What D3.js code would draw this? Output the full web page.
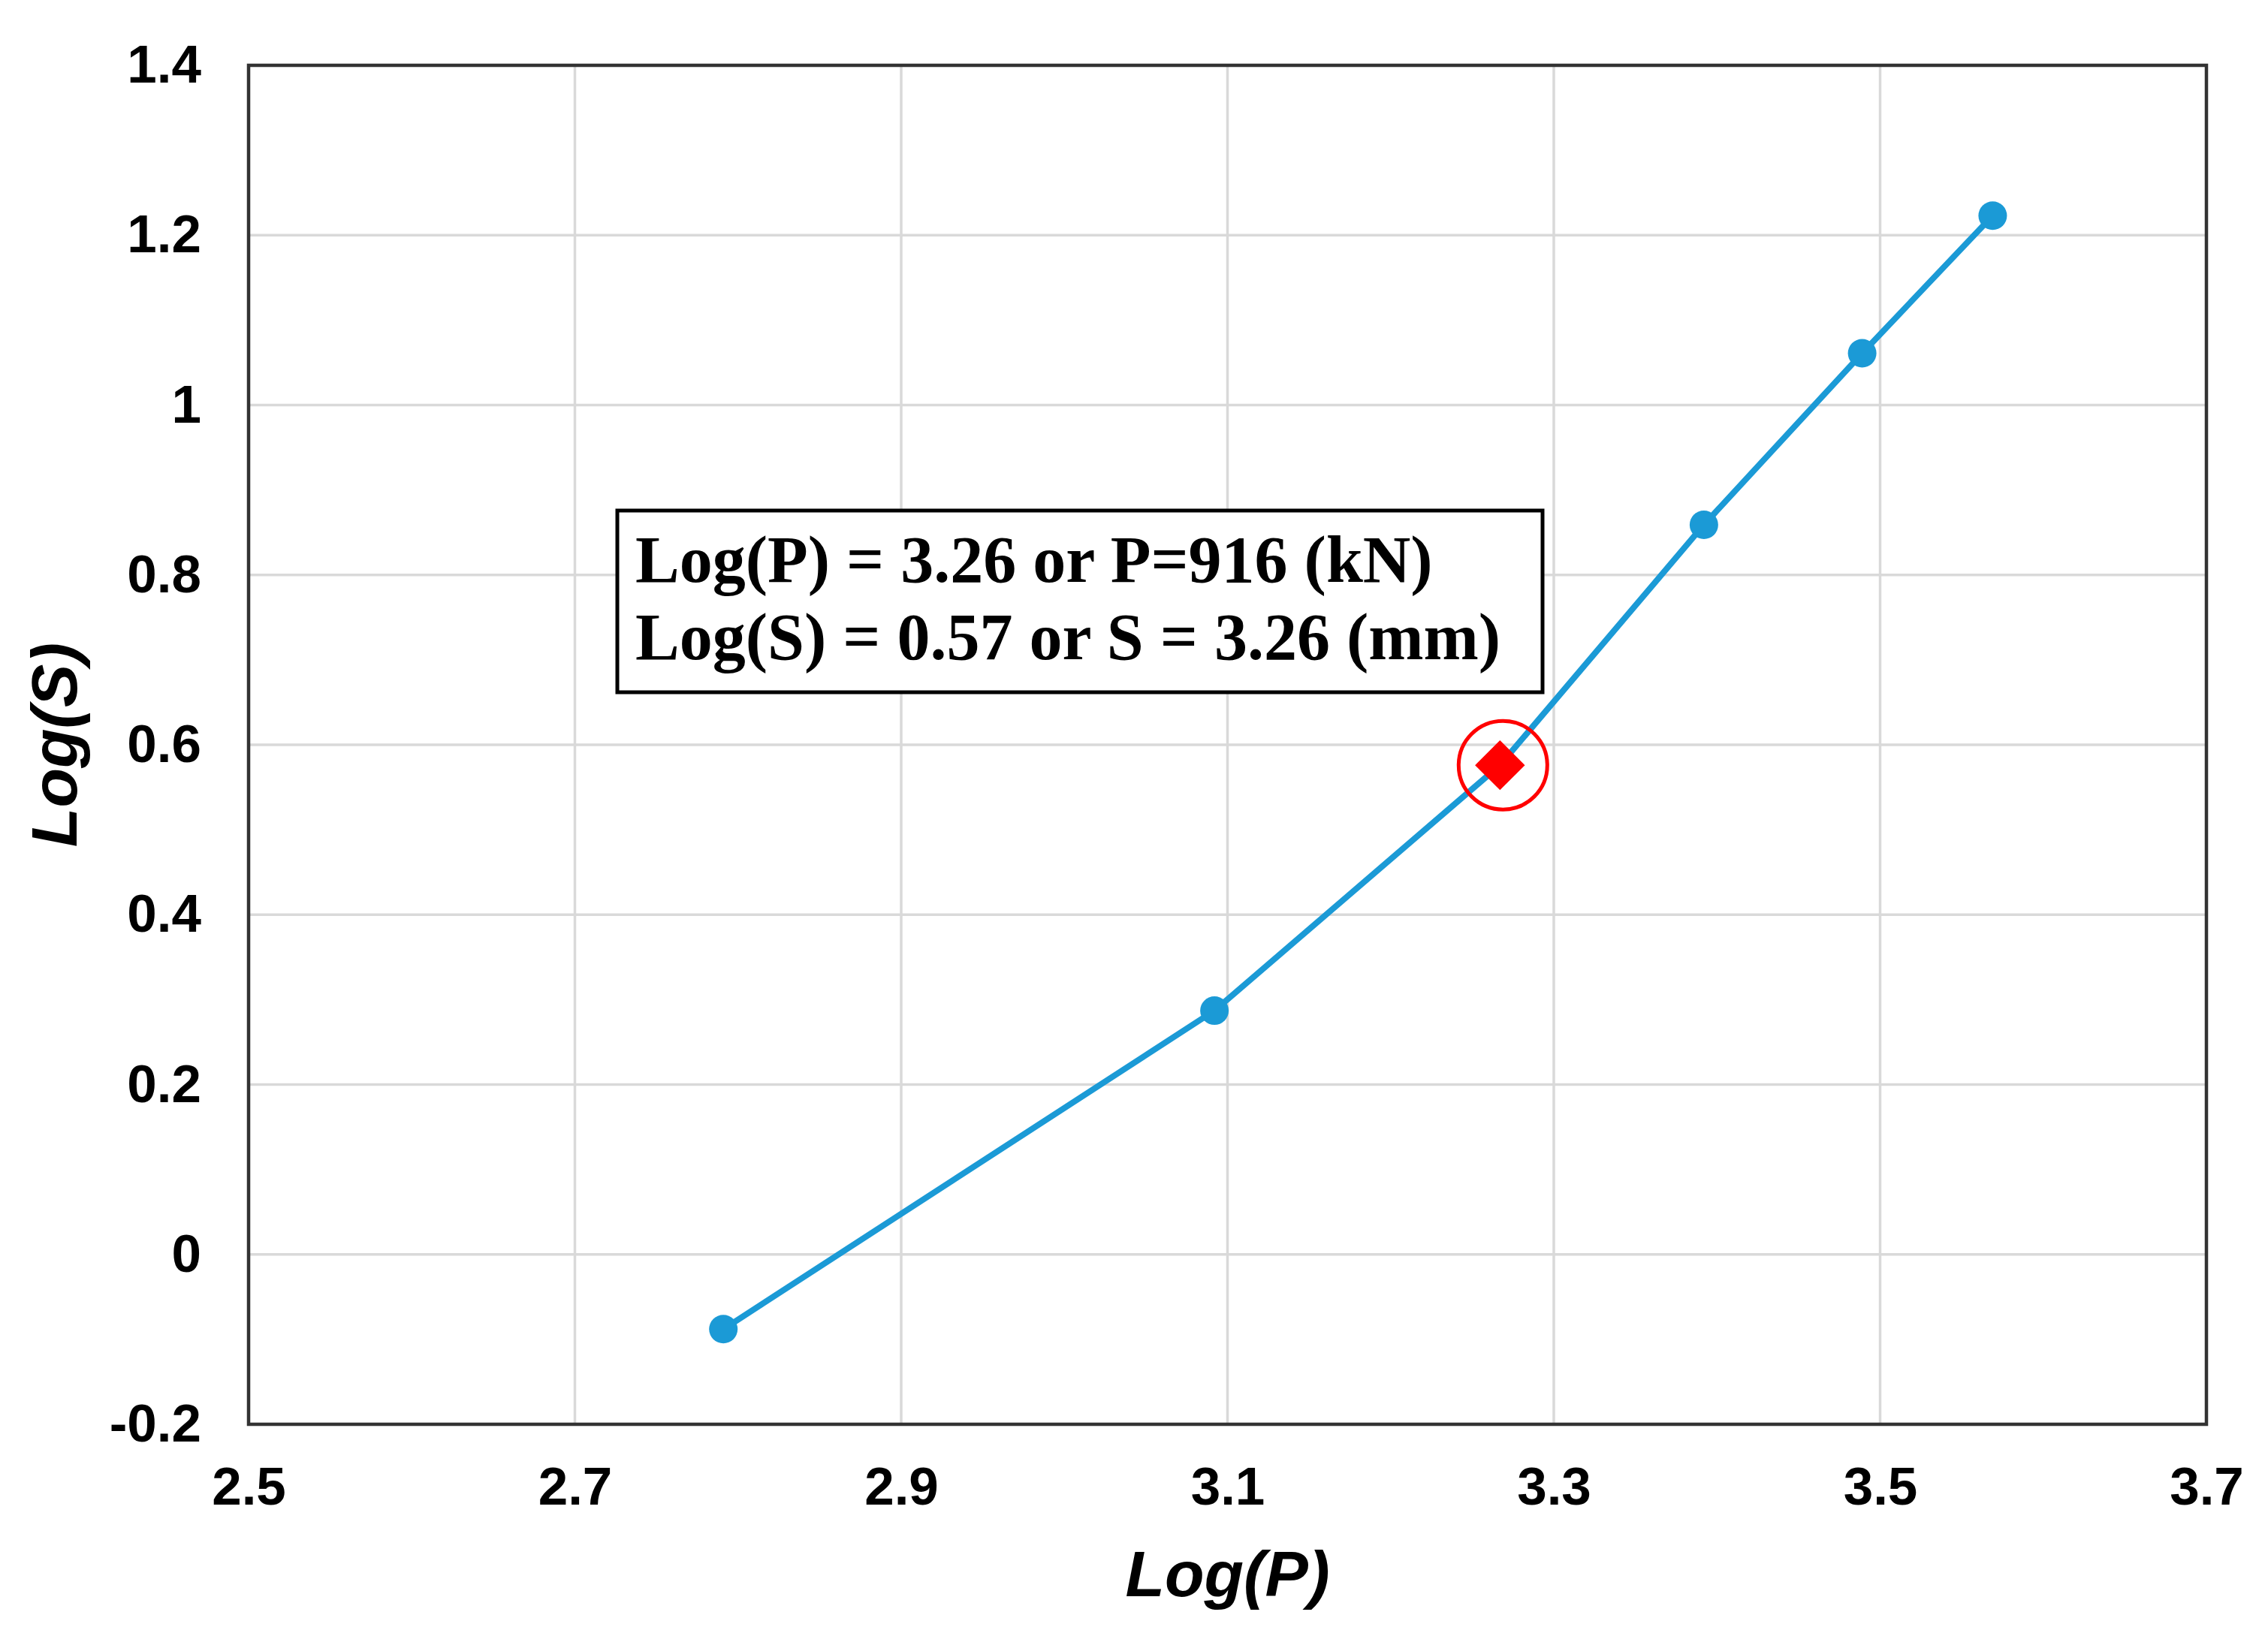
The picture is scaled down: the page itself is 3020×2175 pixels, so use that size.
<!DOCTYPE html>
<html>
<head>
<meta charset="utf-8">
<script src="https://cdn.jsdelivr.net/npm/d3@7"></script>
<style>
  body { margin: 0; background: #fff; }
</style>
</head>
<body>
<div id="chart"></div>
<script>
// series: Log(P) vs Log(S), third point is the one picked out in red
const logP = [2.791, 3.092, 3.267, 3.392, 3.489, 3.569];
const logS = [-0.088, 0.287, 0.576, 0.859, 1.061, 1.223];

const markP = [3.267];
const markS = [0.576];

const xTicks = [2.5, 2.7, 2.9, 3.1, 3.3, 3.5, 3.7];
const xTickLabels = ['2.5', '2.7', '2.9', '3.1', '3.3', '3.5', '3.7'];
const yTicks = [-0.2, 0, 0.2, 0.4, 0.6, 0.8, 1, 1.2, 1.4];
const yTickLabels = ['-0.2', '0', '0.2', '0.4', '0.6', '0.8', '1', '1.2', '1.4'];

const noteLines = [
  'Log(P) = 3.26 or P=916 (kN)',
  'Log(S) = 0.57 or S = 3.26 (mm)',
];

const W = 3020;
const H = 2175;
const margin = {
  top: 87, right: 82, bottom: 278, left: 331,
};
const width = W - margin.left - margin.right;
const height = H - margin.top - margin.bottom;

const blue = '#1b9ad6';
const sans = '"Liberation Sans", Arial, sans-serif';
const serif = '"Liberation Serif", "Times New Roman", serif';

const x = d3.scaleLinear().domain([2.5, 3.7]).range([0, width]);
const y = d3.scaleLinear().domain([-0.2, 1.4]).range([height, 0]);

const svg = d3.select('#chart').append('svg')
  .attr('width', W)
  .attr('height', H)
  .style('display', 'block');

svg.append('rect').attr('width', W).attr('height', H).attr('fill', '#fff');

const g = svg.append('g')
  .attr('transform', `translate(${margin.left},${margin.top})`);

// grid
g.append('g')
  .selectAll('line')
  .data(xTicks)
  .enter().append('line')
  .attr('x1', (d) => x(d))
  .attr('x2', (d) => x(d))
  .attr('y1', 0)
  .attr('y2', height)
  .attr('stroke', '#d9d9d9')
  .attr('stroke-width', 3.5);

g.append('g')
  .selectAll('line')
  .data(yTicks)
  .enter().append('line')
  .attr('x1', 0)
  .attr('x2', width)
  .attr('y1', (d) => y(d))
  .attr('y2', (d) => y(d))
  .attr('stroke', '#d9d9d9')
  .attr('stroke-width', 3.5);

// axes (labels only, frame drawn below)
const xAxis = g.append('g')
  .attr('transform', `translate(0,${height})`)
  .call(d3.axisBottom(x)
    .tickValues(xTicks)
    .tickFormat((d, i) => xTickLabels[i])
    .tickSize(0)
    .tickPadding(57));

const yAxis = g.append('g')
  .call(d3.axisLeft(y)
    .tickValues(yTicks)
    .tickFormat((d, i) => yTickLabels[i])
    .tickSize(0)
    .tickPadding(63));

[xAxis, yAxis].forEach((a) => {
  a.select('.domain').remove();
  a.selectAll('text')
    .attr('fill', '#000')
    .style('font-family', sans)
    .style('font-weight', 'bold')
    .style('font-size', '71px');
});

// plot frame
g.append('rect')
  .attr('width', width)
  .attr('height', height)
  .attr('fill', 'none')
  .attr('stroke', '#333')
  .attr('stroke-width', 4.5);

// axis titles
svg.append('text')
  .attr('x', margin.left + width / 2)
  .attr('y', 2126)
  .attr('text-anchor', 'middle')
  .style('font-family', sans)
  .style('font-weight', 'bold')
  .style('font-style', 'italic')
  .style('font-size', '86px')
  .text('Log(P)');

svg.append('text')
  .attr('transform', `translate(102,${margin.top + height / 2}) rotate(-90)`)
  .attr('text-anchor', 'middle')
  .style('font-family', sans)
  .style('font-weight', 'bold')
  .style('font-style', 'italic')
  .style('font-size', '86px')
  .text('Log(S)');

// series
const pts = logP.map((p, i) => ({ p, s: logS[i] }));

const line = d3.line()
  .x((d) => x(d.p))
  .y((d) => y(d.s));

g.append('path')
  .datum(pts)
  .attr('d', line)
  .attr('fill', 'none')
  .attr('stroke', blue)
  .attr('stroke-width', 8);

g.selectAll('.dot')
  .data(pts)
  .enter().append('circle')
  .attr('class', 'dot')
  .attr('cx', (d) => x(d.p))
  .attr('cy', (d) => y(d.s))
  .attr('r', 19)
  .attr('fill', blue);

// highlighted point
const marks = markP.map((p, i) => ({ p, s: markS[i] }));

g.selectAll('.mark')
  .data(marks)
  .enter().append('path')
  .attr('class', 'mark')
  .attr('d', d3.symbol().type(d3.symbolSquare).size(2200))
  .attr('transform', (d) => `translate(${x(d.p)},${y(d.s)}) rotate(45)`)
  .attr('fill', '#ff0000');

g.selectAll('.ring')
  .data(marks)
  .enter().append('circle')
  .attr('class', 'ring')
  .attr('cx', (d) => x(d.p) + 4)
  .attr('cy', (d) => y(d.s))
  .attr('r', 59)
  .attr('fill', 'none')
  .attr('stroke', '#ff0000')
  .attr('stroke-width', 5);

// annotation box
const note = svg.append('g');
note.append('rect')
  .attr('x', 822)
  .attr('y', 680)
  .attr('width', 1232)
  .attr('height', 242)
  .attr('fill', '#fff')
  .attr('stroke', '#000')
  .attr('stroke-width', 5);

note.selectAll('text')
  .data(noteLines)
  .enter().append('text')
  .attr('x', 846)
  .attr('y', (d, i) => 775 + i * 103)
  .style('font-family', serif)
  .style('font-weight', 'bold')
  .style('font-size', '88px')
  .text((d) => d);
</script>
</body>
</html>
